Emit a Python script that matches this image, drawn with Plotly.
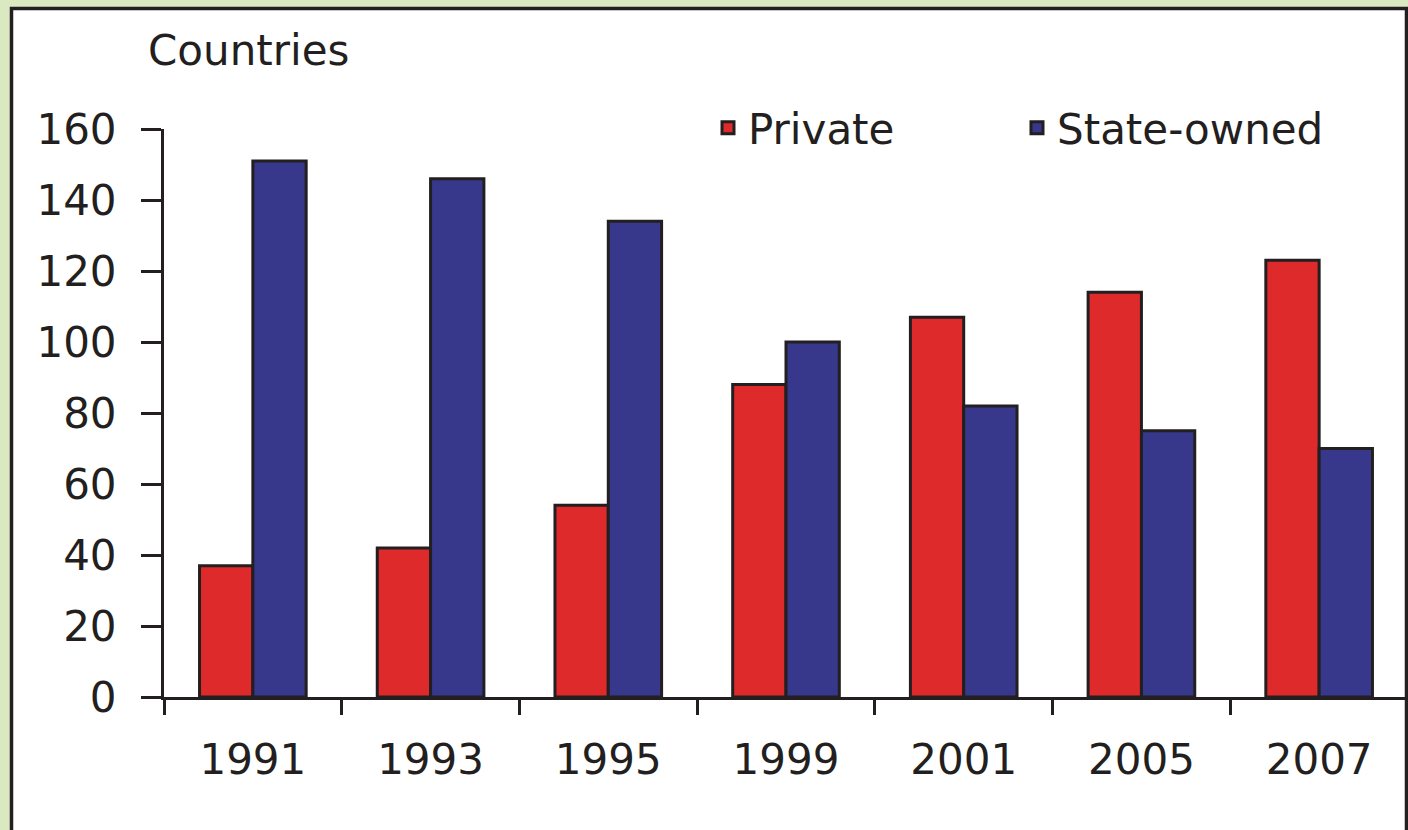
import plotly.graph_objects as go

years = ["1991", "1993", "1995", "1999", "2001", "2005", "2007"]
private = [37, 42, 54, 88, 107, 114, 123]
state_owned = [151, 146, 134, 100, 82, 75, 70]
y_ticks = [0, 20, 40, 60, 80, 100, 120, 140, 160]

INK = "#231f20"
W, H = 1408, 830
ML, MR, MT, MB = 164, 0, 129, 133
PW, PH = W - ML - MR, H - MT - MB


def px_x(p):
    return (p - ML) / PW


def px_y(p):
    return (H - MB - p) / PH


fig = go.Figure()
fig.add_trace(go.Bar(x=years, y=private, name="Private",
                     marker=dict(color="#df2a2b", line=dict(color=INK, width=3))))
fig.add_trace(go.Bar(x=years, y=state_owned, name="State-owned",
                     marker=dict(color="#37388b", line=dict(color=INK, width=3))))

fig.update_layout(
    width=W, height=H, autosize=False,
    margin=dict(l=ML, r=MR, t=MT, b=MB, pad=0),
    paper_bgcolor="#dbe9c2",
    plot_bgcolor="rgba(0,0,0,0)",
    font=dict(family="DejaVu Sans", color=INK, size=42),
    barmode="group", bargap=0.40, bargroupgap=0,
    title=dict(text="Countries", x=148 / W, xanchor="left", xref="container",
               y=1 - 50 / H, yanchor="middle", yref="container",
               font=dict(family="DejaVu Sans", size=42, color=INK)),
    legend=dict(orientation="h", x=px_x(708), xanchor="left",
                y=px_y(128), yanchor="middle", bgcolor="rgba(0,0,0,0)",
                entrywidth=264, entrywidthmode="pixels",
                font=dict(size=42, color=INK)),
    xaxis=dict(type="category", showline=True, linecolor=INK, linewidth=3,
               ticks="outside", tickson="boundaries", ticklen=15, tickwidth=3,
               tickcolor=INK, showgrid=False, ticklabelstandoff=24,
               tickfont=dict(size=42, color=INK)),
    yaxis=dict(range=[0, 160], tickvals=y_ticks, showline=True, linecolor=INK,
               linewidth=3, ticks="outside", ticklen=20, tickwidth=3,
               tickcolor=INK, showgrid=False, zeroline=False,
               ticklabelstandoff=16, tickfont=dict(size=42, color=INK)),
    shapes=[dict(type="rect", xref="paper", yref="paper", layer="below",
                 x0=px_x(11.5), x1=px_x(1406.5), y0=px_y(860), y1=px_y(8.5),
                 fillcolor="white", line=dict(color=INK, width=3.5))],
)

fig.write_html(
    "out.html",
    config={"displayModeBar": False},
    post_script="document.body.style.margin='0';document.body.style.overflow='hidden';",
)
